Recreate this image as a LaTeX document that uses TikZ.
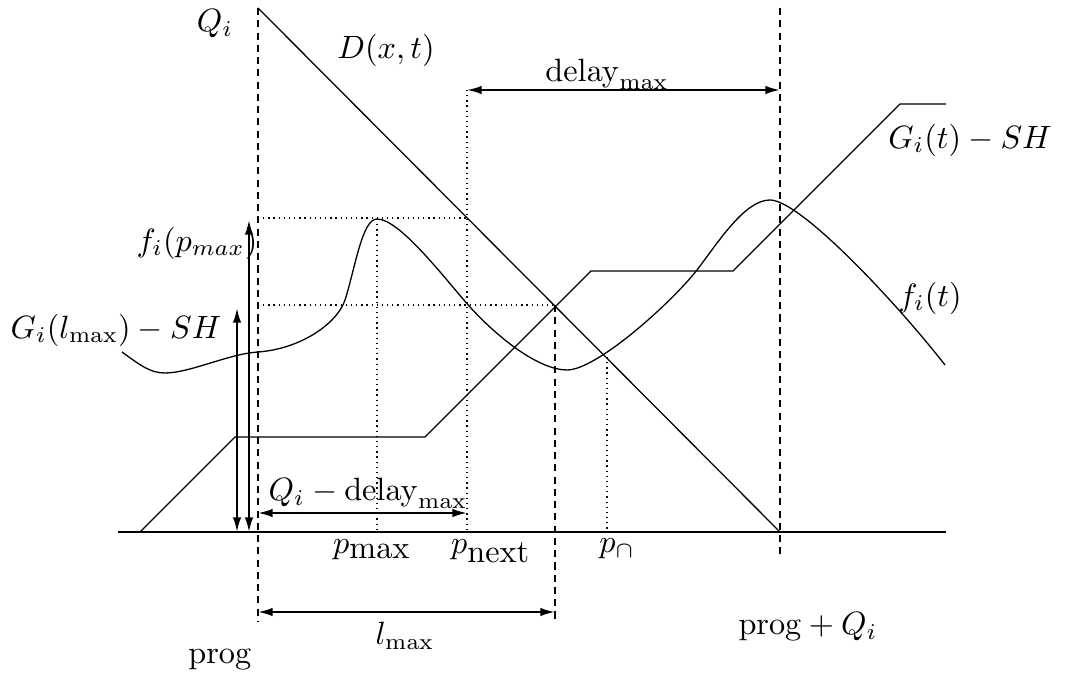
\documentclass[tikz,border=0pt]{standalone}
\usepackage{tikz}
\usetikzlibrary{arrows.meta, positioning}
\tikzset{
	labelnode/.style={
			inner sep=1pt,
			font=\normalsize
		},
	dimline/.style={
			semithick,
			>={Latex[length=4.5pt,width=2.6pt]}
		},
	dashguide/.style={
			thin,
			dash pattern=on 2.2pt off 1.6pt
		},
	dotguide/.style={
			thin,
			dash pattern=on 0.4pt off 1.2pt
		},
	curveline/.style={
			thin,
			line join=round
		}
}

\begin{document}
\begin{tikzpicture}[x=0.31pt, y=-0.31pt]
\useasboundingbox (0,0) rectangle (1067,686);

\coordinate (pTop) at (258,8);
\coordinate (pBot) at (258,622);
\coordinate (qTop) at (780,8);
\coordinate (qAxis) at (780,532);
\coordinate (qBot) at (780,556);
\coordinate (lCross) at (555,305);
\coordinate (lBot) at (555,620);
\coordinate (nTop) at (467,90);
\coordinate (nD) at (467,218);
\coordinate (nAxis) at (467,532);
\coordinate (mPeak) at (377,219);
\coordinate (mAxis) at (377,532);
\coordinate (cCross) at (607,357);
\coordinate (cAxis) at (607,532);
\coordinate (pPeak) at (258,218);
\coordinate (pCross) at (258,305);
\coordinate (axL) at (118,532);
\coordinate (axR) at (946,532);

\node[labelnode] (tQ) at (215,24) {$Q_i$};
\node[labelnode] (tD) at (386,50) {$D(x,t)$};
\node[labelnode] (tDelay) at (607,74) {$\mathrm{delay}_{\mathrm{max}}$};
\node[labelnode] (tG) at (970,140) {$G_i(t)-SH$};
\node[labelnode] (tF) at (930,298) {$f_i(t)$};
\node[labelnode] (tFmax) at (197,243) {$f_i(p_{max})$};
\node[labelnode] (tGmax) at (116,330) {$G_i(l_{\mathrm{max}})-SH$};
\node[labelnode] (tQdelay) at (368,493) {$Q_i-\mathrm{delay}_{\mathrm{max}}$};
\node[labelnode] (tPmax) at (372,550) {$p_{\textstyle\mathrm{max}}$};
\node[labelnode] (tPnext) at (491,551) {$p_{\textstyle\mathrm{next}}$};
\node[labelnode] (tPcap) at (617,549) {$p_\cap$};
\node[labelnode] (tProgQ) at (808,627) {$\mathrm{prog}+Q_i$};
\node[labelnode] (tLmax) at (405,636) {$l_{\mathrm{max}}$};
\node[labelnode] (tProg) at (220,660) {$\mathrm{prog}$};

\draw[thin] (axL) -- (axR);
\draw[dashguide] (pTop) -- (pBot);
\draw[dashguide] (qTop) -- (qBot);
\draw[dashguide] (lCross) -- (lBot);
\draw[dotguide] (nTop) -- (nAxis);
\draw[dotguide] (mPeak) -- (mAxis);
\draw[dotguide] (cCross) -- (cAxis);
\draw[dotguide] (pPeak) -- (nD);
\draw[dotguide] (pCross) -- (lCross);

\draw[curveline] (pTop) -- (qAxis);
\draw[curveline] (140,532) -- (235,437) -- (425,437) -- (591,271)
	-- (733,271) -- (900,104) -- (946,104);
\draw[curveline] (122,352) .. controls (140,365) and (150,373) .. (165,373)
	.. controls (190,373) and (228,354) .. (258,352)
	.. controls (300,349) and (337,324) .. (345,300)
	.. controls (355,269) and (362,219) .. (mPeak)
	.. controls (400,219) and (445,279) .. (470,307)
	.. controls (500,340) and (540,370) .. (567,370)
	.. controls (597,370) and (672,302) .. (697,270)
	.. controls (719,241) and (745,200) .. (770,200)
	.. controls (800,200) and (895,301) .. (945,365);

\draw[dimline, <->] (nTop) -- (780,90);
\draw[dimline, <->] (258,513) -- (467,513);
\draw[dimline, <->] (258,612) -- (555,612);
\draw[dimline, <->] (249,220) -- (249,532);
\draw[dimline, <->] (237,308) -- (237,532);

\end{tikzpicture}
\end{document}
